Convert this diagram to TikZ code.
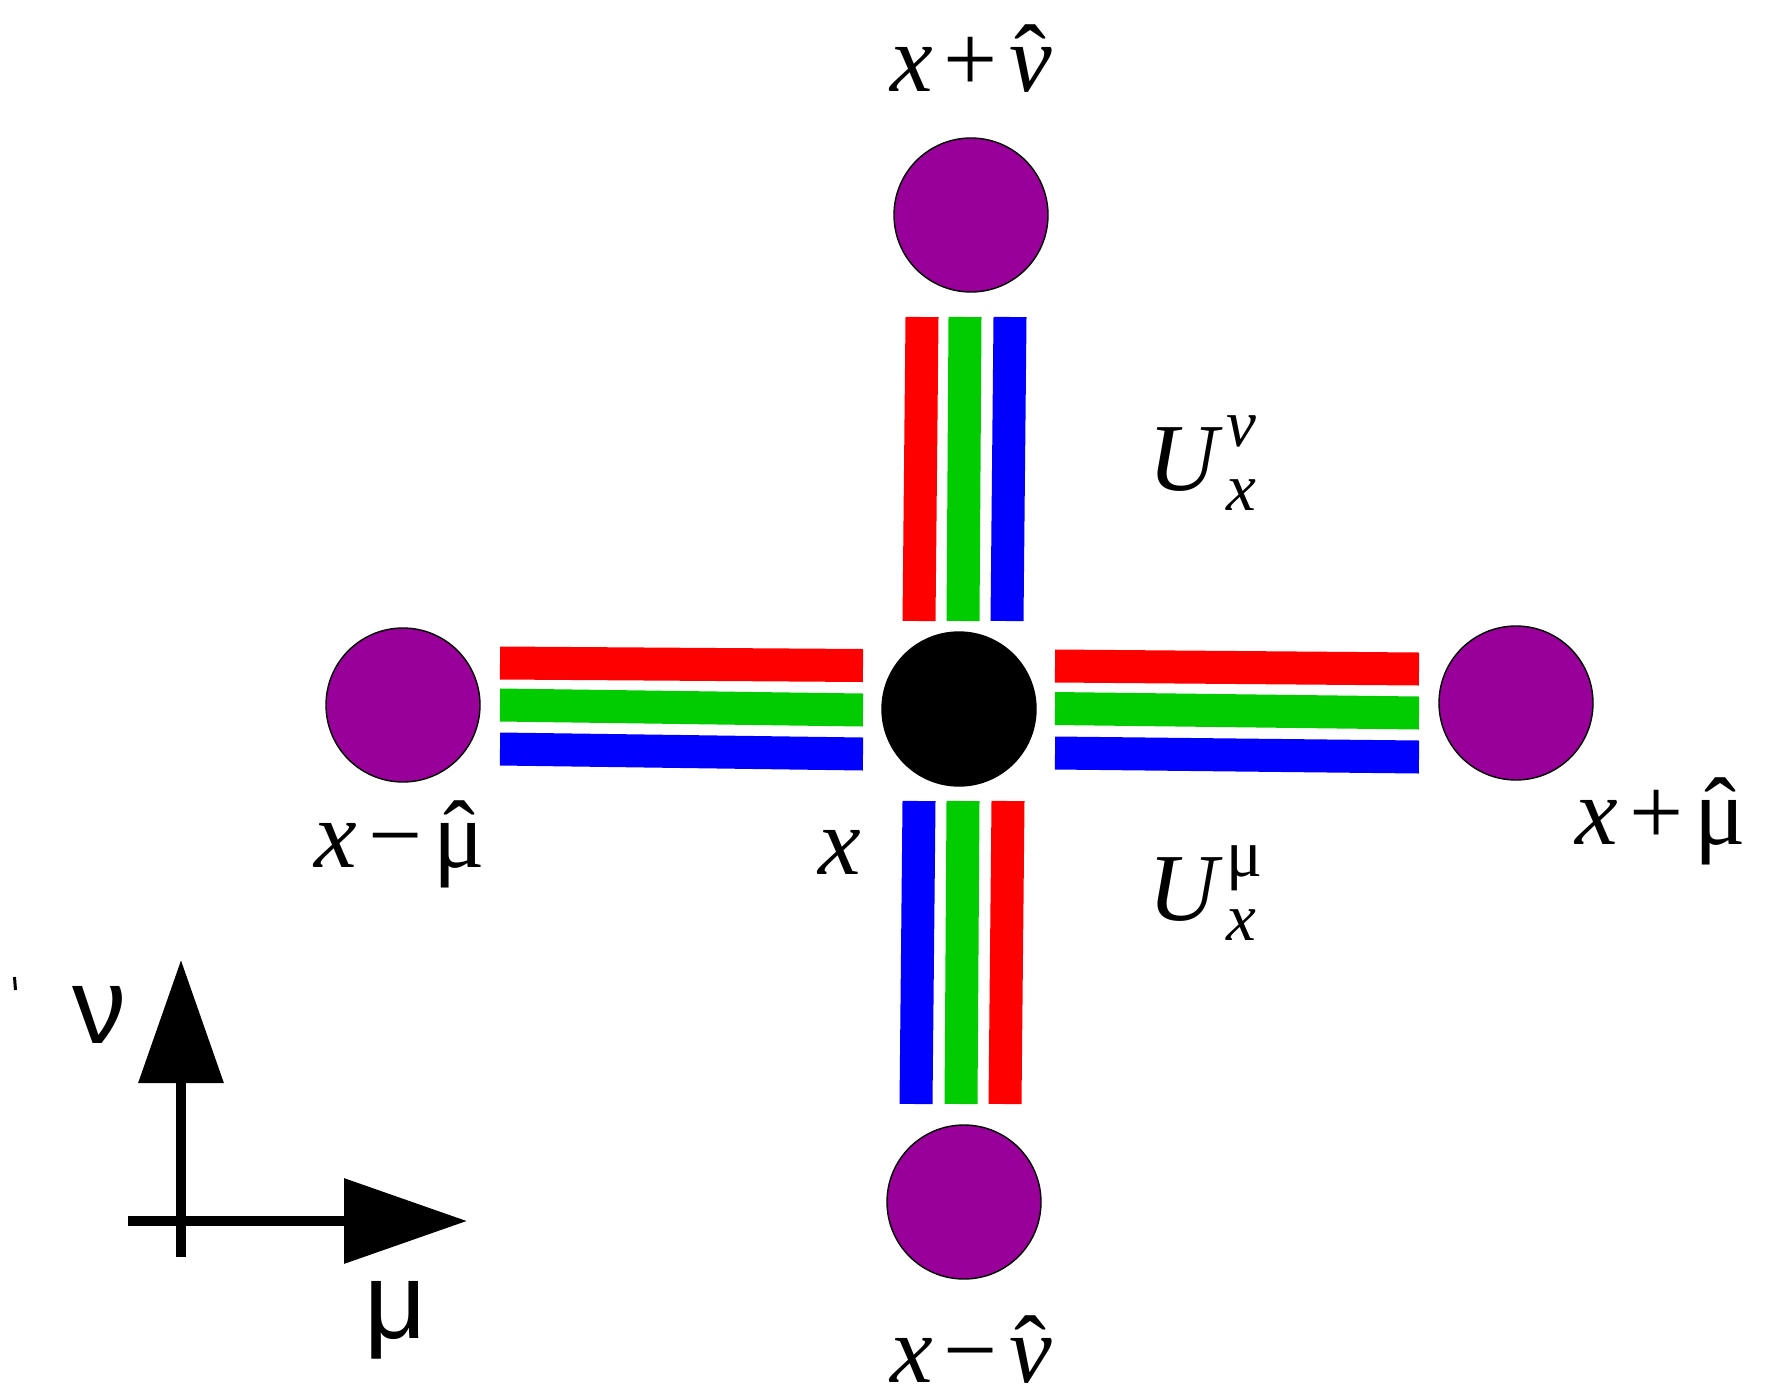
\documentclass[tikz,border=0pt]{standalone}
\usepackage{amsmath}
\usepackage{fontspec}
\setmainfont{Liberation Serif}
\newfontfamily\axisfont{Liberation Sans}
\usetikzlibrary{arrows.meta,positioning}
\definecolor{sitepurple}{RGB}{153,0,153}
\definecolor{linkred}{RGB}{255,0,0}
\definecolor{linkgreen}{RGB}{0,204,0}
\definecolor{linkblue}{RGB}{0,0,255}
\tikzset{
  site/.style={circle,fill=sitepurple,draw=black,line width=0.7pt,
    minimum size=77pt,inner sep=0pt},
  centre/.style={site,fill=black},
  link/.style={line width=16.5pt},
  lbl/.style={font=\fontsize{48}{52}\selectfont,anchor=base,inner sep=0pt},
  axis/.style={line width=5pt,-{Triangle[length=61.5pt,width=41.5pt]}},
  axislbl/.style={font=\axisfont\fontsize{54}{58}\selectfont,anchor=base,inner sep=0pt},
}
\newcommand{\hatted}[1]{{\ooalign{#1\cr\hidewidth\textup{ˆ}\hidewidth\cr}}}
\newcommand{\shiftedsite}[2]{$\textit{x}\mathbin{\textrm{#1}}\text{\hatted{#2}}$}

\begin{document}
\begin{tikzpicture}[x=0.5pt,y=-0.5pt]
  \useasboundingbox (0,0) rectangle (1776,1392);

  % sites
  \node[centre] (x) at (959,709) {};
  \node[site] (xpnu) at (971,215) {};
  \node[site] (xmnu) at (964,1202) {};
  \node[site] (xmmu) at (403,705) {};
  \node[site] (xpmu) at (1516,703) {};

  % link to x+nu
  \draw[link,linkred]   (922,317) -- (919,621);
  \draw[link,linkgreen] (965,317) -- (963,621);
  \draw[link,linkblue]  (1010,317) -- (1007,621);
  % link to x-nu
  \draw[link,linkblue]  (919,801) -- (916,1104);
  \draw[link,linkgreen] (963,801) -- (961,1104);
  \draw[link,linkred]   (1008,801) -- (1005,1104);
  % link to x-mu
  \draw[link,linkred]   (500,663) -- (863,665.5);
  \draw[link,linkgreen] (500,705) -- (863,710);
  \draw[link,linkblue]  (500,749) -- (863,754);
  % link to x+mu
  \draw[link,linkred]   (1055,666) -- (1419,669);
  \draw[link,linkgreen] (1055,708.5) -- (1419,713);
  \draw[link,linkblue]  (1055,753) -- (1419,757);

  % labels
  \node[lbl] (lxpnu) at (971,91) {\shiftedsite{+}{\textit{ν}}};
  \node[lbl] (lxmnu) at (971,1382) {\shiftedsite{−}{\textit{ν}}};
  \node[lbl] (lxmmu) at (400,867) {\shiftedsite{−}{μ}};
  \node[lbl] (lxpmu) at (1661,844) {\shiftedsite{+}{μ}};
  \node[lbl] (lx) at (840,874) {\textit{x}};
  \node[lbl,anchor=base west] (unu) at (1148,490)
    {$\textit{U}^{\,\textit{ν}}_{\,\text{\raisebox{-4pt}{\itshape x}}}$};
  \node[lbl,anchor=base west] (umu) at (1148,920)
    {$\textit{U}^{\,\textrm{μ}}_{\,\text{\raisebox{-4pt}{\itshape x}}}$};

  % axes
  \coordinate (vtail) at (181,1257);
  \coordinate (vtip) at (181,960);
  \coordinate (htail) at (128,1221);
  \coordinate (htip) at (467,1221);
  \draw[axis] (vtail) -- (vtip);
  \draw[axis] (htail) -- (htip);
  \node[axislbl] (lnu) at (99,1043) {ν};
  \node[axislbl] (lmu) at (396,1338) {μ};
  \draw[line width=1.5pt] (14.5,977) -- (15.5,990);
\end{tikzpicture}
\end{document}
